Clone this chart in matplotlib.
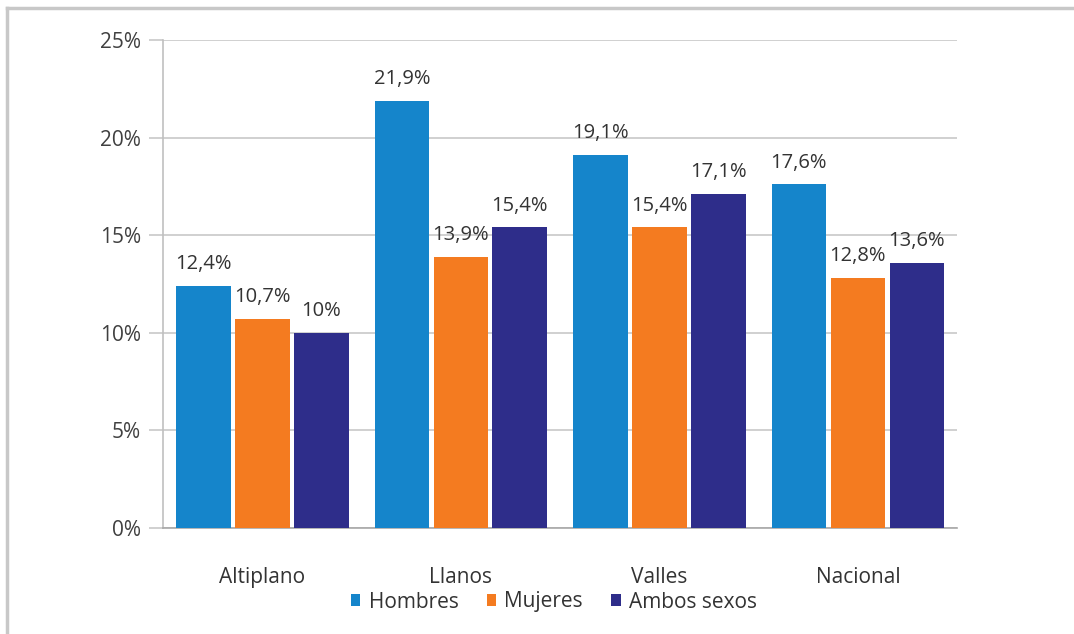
import matplotlib
matplotlib.use("Agg")
import matplotlib.pyplot as plt
from matplotlib.lines import Line2D
from matplotlib.ticker import FuncFormatter
import numpy as np

categories = ["Altiplano", "Llanos", "Valles", "Nacional"]
series_names = ["Hombres", "Mujeres", "Ambos sexos"]
hombres = [12.4, 21.9, 19.1, 17.6]
mujeres = [10.7, 13.9, 15.4, 12.8]
ambos = [10.0, 15.4, 17.1, 13.6]
labels_h = ["12,4%", "21,9%", "19,1%", "17,6%"]
labels_m = ["10,7%", "13,9%", "15,4%", "12,8%"]
labels_a = ["10%", "15,4%", "17,1%", "13,6%"]
colors = ["#1585cb", "#f47b20", "#2e2d8a"]

plt.rcParams['font.family'] = ['Open Sans', 'DejaVu Sans']
fig = plt.figure(figsize=(10.74, 6.34), dpi=100)
ax = fig.add_axes([0.1518, 0.1672, 0.7394, 0.7697])

x = np.arange(len(categories))
offs = [-0.297, 0, 0.297]
w = 0.275
for vals, labs, off, c, name in zip([hombres, mujeres, ambos], [labels_h, labels_m, labels_a], offs, colors, series_names):
    bars = ax.bar(x + off, vals, width=w, color=c, label=name, zorder=3)
    for b, lab in zip(bars, labs):
        ax.text(b.get_x() + b.get_width() / 2, b.get_height() + 0.6, lab,
                ha='center', va='bottom', fontsize=14.5, color='#333333', zorder=4)

ax.set_xlim(-0.5, 3.5)
ax.set_ylim(0, 25)
ax.set_yticks([0, 5, 10, 15, 20, 25])
ax.yaxis.set_major_formatter(FuncFormatter(lambda v, p: f"{int(v)}%"))
ax.grid(axis='y', color='#c8c8c8', linewidth=1.2, zorder=0)
ax.set_xticks(x)
ax.set_xticklabels(categories)
for s in ['top', 'right']:
    ax.spines[s].set_visible(False)
ax.spines['left'].set_color('#c0c0c0')
ax.spines['left'].set_linewidth(1.2)
ax.spines['bottom'].set_color('#a8a8a8')
ax.spines['bottom'].set_linewidth(1.2)
ax.tick_params(axis='y', length=10, color='#c8c8c8', width=1.2, labelsize=15, labelcolor='#404040', pad=6)
ax.tick_params(axis='x', length=0, labelsize=15, labelcolor='#333333', pad=28)

leg = fig.legend(loc='center', bbox_to_anchor=(554/1074, 1 - 602/634), ncol=3, frameon=False,
                 fontsize=15, handlelength=0.45, handleheight=0.45, handletextpad=0.4,
                 columnspacing=1.35, labelcolor='#333333')

fig.add_artist(Line2D([7/1074, 7/1074], [0, 1 - 8/634], color='#c8c8c8', linewidth=2.5, transform=fig.transFigure))
fig.add_artist(Line2D([7/1074, 1], [1 - 8/634, 1 - 8/634], color='#c8c8c8', linewidth=2.5, transform=fig.transFigure))

fig.savefig("out.png", dpi=100, facecolor='white')
